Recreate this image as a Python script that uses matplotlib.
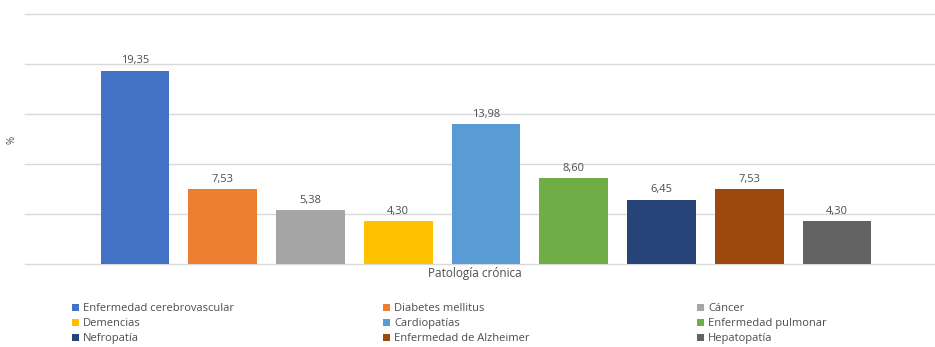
import matplotlib.pyplot as plt
from matplotlib.patches import Patch

plt.rcParams['font.family'] = ['Open Sans', 'DejaVu Sans']

# chronic pathology prevalence (%)
categories = ['Enfermedad cerebrovascular', 'Diabetes mellitus', 'Cáncer',
              'Demencias', 'Cardiopatías', 'Enfermedad pulmonar',
              'Nefropatía', 'Enfermedad de Alzheimer', 'Hepatopatía']
values = [19.35, 7.53, 5.38, 4.30, 13.98, 8.60, 6.45, 7.53, 4.30]
colors = ['#4472C4', '#ED7D31', '#A5A5A5', '#FFC000', '#5B9BD5',
          '#70AD47', '#264478', '#9E480E', '#636363']
yticks = [0, 5, 10, 15, 20, 25]

TXT = '#4D4D4D'

fig = plt.figure(figsize=(9.35, 3.47), dpi=100)
ax = fig.add_axes([25 / 935, 1 - 264 / 347, 910 / 935, 250 / 347])

x = list(range(len(values)))
bars = ax.bar(x, values, width=0.785, color=colors, zorder=3)
ax.bar_label(bars, labels=[f'{v:.2f}'.replace('.', ',') for v in values],
             padding=3, fontsize=8, color=TXT)

ax.set_ylim(0, 25)
ax.set_xlim(-1.254, 9.117)
ax.set_yticks(yticks)
ax.set_xticks([])
ax.tick_params(axis='y', length=0, labelleft=False)
ax.grid(axis='y', color='#D9D9D9', linewidth=1, zorder=0)
for ln in ax.get_ygridlines():
    ln.set_clip_on(False)
for s in ax.spines.values():
    s.set_visible(False)

fig.text(475 / 935, 1 - 274 / 347, 'Patología crónica', ha='center', va='center',
         fontsize=8.5, color=TXT)
fig.text(12 / 935, 1 - 140 / 347, '%', ha='center', va='center', rotation=90,
         fontsize=7, color=TXT)

# legend laid out row by row in three columns
col_x = [72, 383, 697]
for c in range(3):
    idx = [c, c + 3, c + 6]
    handles = [Patch(facecolor=colors[i], edgecolor='none') for i in idx]
    fig.legend(handles, [categories[i] for i in idx],
               loc='upper left', bbox_to_anchor=(col_x[c] / 935, 1 - 303 / 347),
               frameon=False, fontsize=8, labelcolor=TXT,
               handlelength=0.6, handleheight=0.6, handletextpad=0.4,
               labelspacing=0.38, borderpad=0, borderaxespad=0)

fig.savefig('out.png', dpi=100)
